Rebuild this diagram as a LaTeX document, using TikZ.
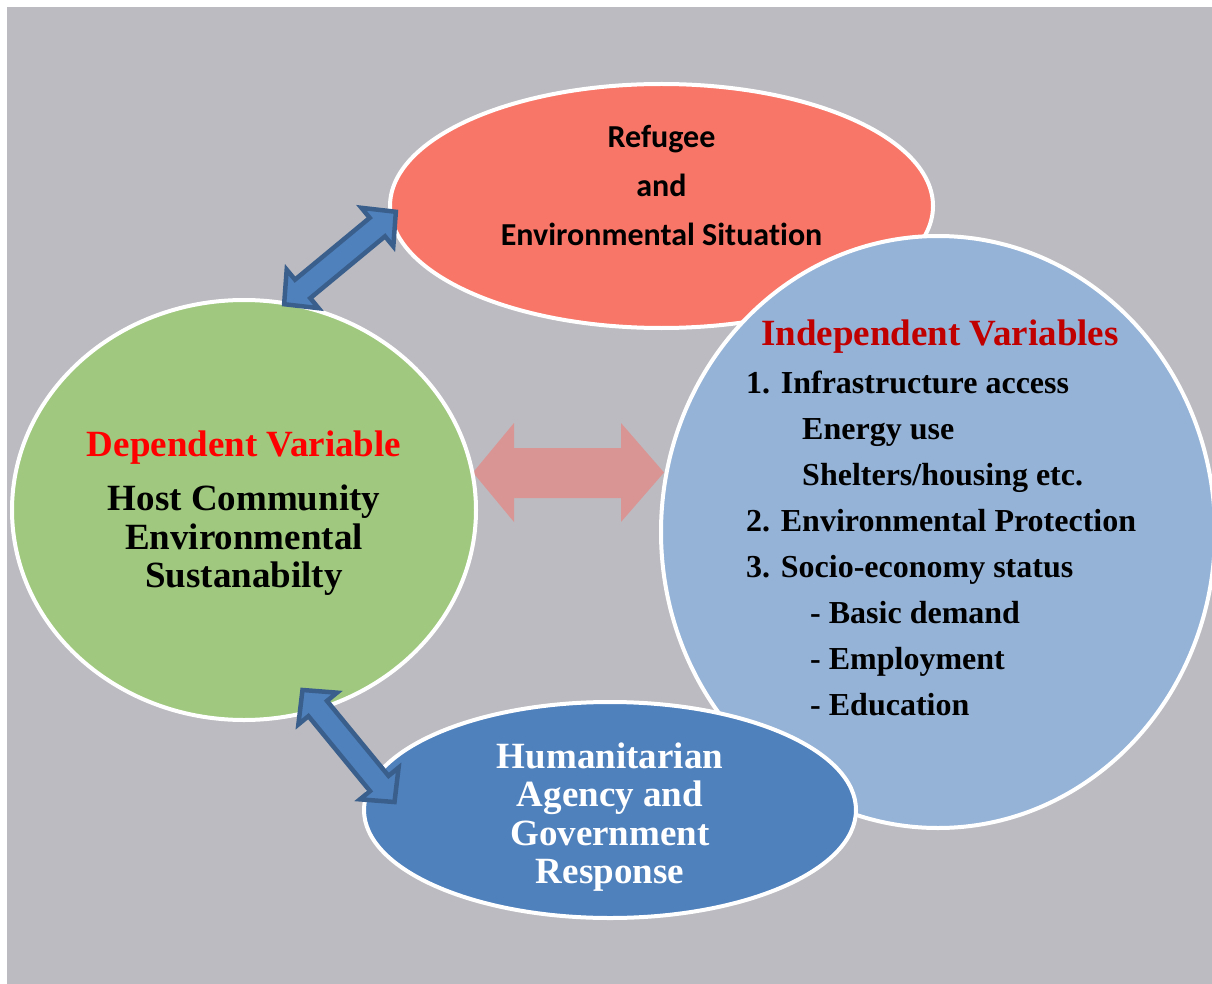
\documentclass[tikz,border=0pt]{standalone}
\usepackage{fontspec}
\setmainfont{Liberation Serif}
\newfontfamily\calfont[Ligatures={NoCommon,NoDiscretionary}]{Carlito}
\usetikzlibrary{shapes.geometric}
\definecolor{bggray}{HTML}{BCBBC1}
\definecolor{refred}{HTML}{F87668}
\definecolor{depgreen}{HTML}{A0C97F}
\definecolor{indblue}{HTML}{95B3D7}
\definecolor{humblue}{HTML}{4F81BD}
\definecolor{arrborder}{HTML}{3A5F8C}
\definecolor{pinkarr}{HTML}{D99594}
\definecolor{darkred}{HTML}{C00000}
\tikzset{
  blob/.style={ellipse, draw=white, line width=4pt, inner sep=0pt},
  sanstxt/.style={font=\calfont\bfseries\fontsize{32}{36}\selectfont, anchor=base, inner sep=0pt},
  bigtxt/.style={font=\bfseries\fontsize{37}{40}\selectfont, anchor=base, inner sep=0pt},
  listtxt/.style={font=\bfseries\fontsize{32}{36}\selectfont, anchor=base west, inner sep=0pt},
  blockarrow/.pic={
    \path[pic actions] (-72.5,0) -- (-48.5,25) -- (-48.5,12) -- (48.5,12) -- (48.5,25)
      -- (72.5,0) -- (48.5,-25) -- (48.5,-12) -- (-48.5,-12) -- (-48.5,-25) -- cycle;
  },
  bluearrow/.style={fill=humblue, draw=arrborder, line width=4.5pt, line join=miter},
}
\begin{document}
\begin{tikzpicture}[x=1pt, y=-1pt]
\useasboundingbox (0,0) rectangle (1212,984);
\fill[white] (0,0) rectangle (1212,984);
\fill[bggray] (7,7) rectangle (1212,984);

% pink horizontal double arrow
\fill[pinkarr] (473,472.5) -- (514,423) -- (514,448) -- (621,448) -- (621,423) -- (664,472.5)
  -- (621,522) -- (621,498) -- (514,498) -- (514,522) -- cycle;

% shapes
\node[blob, fill=depgreen, minimum width=464pt, minimum height=420pt] (dep) at (244,510) {};
\node[blob, fill=refred, minimum width=543pt, minimum height=244pt] (ref) at (661.5,206) {};
\node[blob, fill=indblue, minimum width=554pt, minimum height=592pt] (ind) at (938,532) {};
\node[blob, fill=humblue, minimum width=492pt, minimum height=216pt] (hum) at (610,810) {};

% blue double arrows
\pic[bluearrow, rotate=39.6] (arrup) at (340,258) {blockarrow};
\pic[bluearrow, rotate=-50.6] (arrdown) at (348.5,746) {blockarrow};

% texts: refugee
\node[sanstxt] (r1) at (661.5,148) {Refugee};
\node[sanstxt] (r2) at (661.5,197) {and};
\node[sanstxt] (r3) at (661.5,246) {Environmental Situation};

% dependent
\node[bigtxt, text=red] (d0) at (244,456) {Dependent Variable};
\node[bigtxt] (d1) at (244,510) {Host Community};
\node[bigtxt] (d2) at (244,549) {Environmental};
\node[bigtxt] (d3) at (244,587) {Sustanabilty};

% independent
\node[bigtxt, text=darkred] (i0) at (940,345) {Independent Variables};
\node[listtxt] (i1) at (746,393) {1. Infrastructure access};
\node[listtxt] (i2) at (802,439) {Energy use};
\node[listtxt] (i3) at (802,485) {Shelters/housing etc.};
\node[listtxt] (i4) at (746,531) {2. Environmental Protection};
\node[listtxt] (i5) at (746,577) {3. Socio-economy status};
\node[listtxt] (i6) at (810,623) {- Basic demand};
\node[listtxt] (i7) at (810,669) {- Employment};
\node[listtxt] (i8) at (810,715) {- Education};

% humanitarian
\node[bigtxt, text=white] (h1) at (610,768) {Humanitarian};
\node[bigtxt, text=white] (h2) at (610,806.5) {Agency and};
\node[bigtxt, text=white] (h3) at (610,845) {Government};
\node[bigtxt, text=white] (h4) at (610,883.5) {Response};
\end{tikzpicture}
\end{document}
